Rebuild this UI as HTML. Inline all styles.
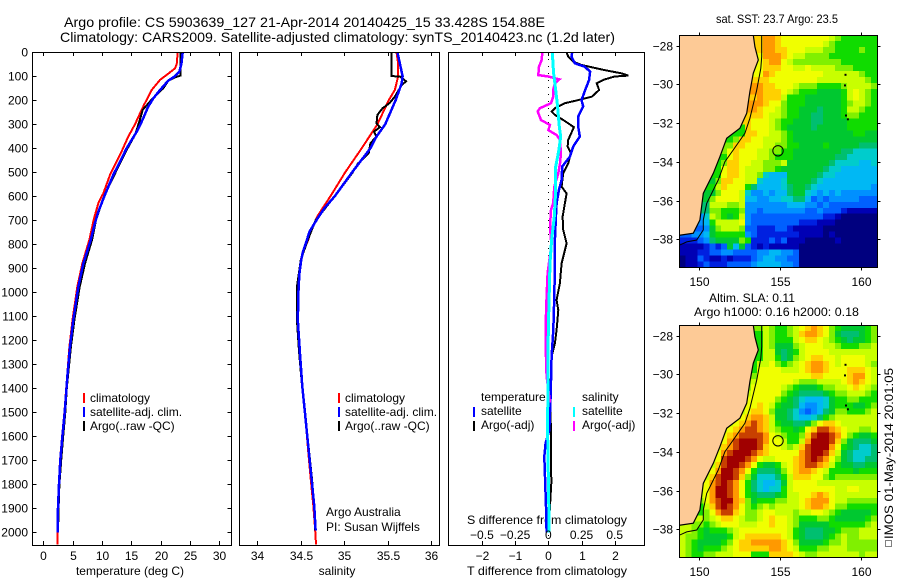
<!DOCTYPE html>
<html>
<head>
<meta charset="utf-8">
<title>Argo profile</title>
<style>
html,body{margin:0;padding:0;background:#fff;width:900px;height:580px;overflow:hidden}
svg{display:block}
text{font-family:"Liberation Sans","DejaVu Sans",sans-serif;font-size:12px;fill:#000}
</style>
</head>
<body>
<svg id="chart" xmlns="http://www.w3.org/2000/svg" width="900" height="580" viewBox="0 0 900 580">
<rect x="0" y="0" width="900" height="580" fill="#fff"/>
<text x="64" y="27" style="font-size:14px" textLength="481" lengthAdjust="spacingAndGlyphs">Argo profile: CS 5903639_127  21-Apr-2014 20140425_15 33.428S 154.88E</text>
<text x="60" y="42" style="font-size:14px" textLength="555" lengthAdjust="spacingAndGlyphs">Climatology: CARS2009. Satellite-adjusted climatology: synTS_20140423.nc (1.2d later)</text>
<text x="130" y="575" text-anchor="middle">temperature (deg C)</text>
<text x="337" y="575" text-anchor="middle">salinity</text>
<text x="547" y="575" text-anchor="middle" textLength="160" lengthAdjust="spacingAndGlyphs">T difference from climatology</text>
<text x="547" y="524" text-anchor="middle" textLength="160" lengthAdjust="spacingAndGlyphs">S difference from climatology</text>
<text x="326" y="516">Argo Australia</text>
<text x="326" y="531">PI: Susan Wijffels</text>
<text x="777" y="23" text-anchor="middle" textLength="122" lengthAdjust="spacingAndGlyphs">sat. SST: 23.7 Argo: 23.5</text>
<text x="752" y="302" text-anchor="middle" textLength="86" lengthAdjust="spacingAndGlyphs">Altim. SLA: 0.11</text>
<text x="776.5" y="316" text-anchor="middle" textLength="165" lengthAdjust="spacingAndGlyphs">Argo h1000: 0.16 h2000: 0.18</text>
<rect x="885.5" y="540.5" width="6" height="6" fill="none" stroke="#000" stroke-width="1" stroke-dasharray="1 1" shape-rendering="crispEdges"/>
<text transform="translate(893,539) rotate(-90)" textLength="171" lengthAdjust="spacingAndGlyphs">IMOS 01-May-2014 20:01:05</text>
</svg>
<script>
// ---------- Axis tick values ----------
const depthTicks = [0,100,200,300,400,500,600,700,800,900,1000,1100,1200,1300,1400,1500,1600,1700,1800,1900,2000];
const tempTicks = [0,5,10,15,20,25,30];
const salTicks = [34,34.5,35,35.5,36];
const salTickLabels = ['34','34.5','35','35.5','36'];
const tDiffTicks = [-2,-1,0,1,2];
const sDiffTicks = [-0.5,-0.25,0,0.25,0.5];
const sDiffTickLabels = ['\u22120.5','\u22120.25','0','0.25','0.5'];
const latTicks = [-28,-30,-32,-34,-36,-38];
const lonTicks = [150,155,160];

// ---------- Temperature profiles ----------
const tempClimDepth = [0,49,67,94,115,157,185,219,261,300,351,428,469,511,588,629,692,782,880,977,1115,1227,1352,1400,1500,1600,1700,1800,1900,2000,2050];
const tempClim = [22.9,22.73,22.45,21.03,19.89,18.47,17.9,17.16,16.36,15.63,14.49,13.07,12.22,11.37,10.23,9.37,8.64,7.84,6.65,5.8,4.98,4.45,4.05,3.9,3.6,3.2,2.85,2.65,2.5,2.42,2.4];
const tempSatDepth = [0,49,81,99,118,157,192,226,289,331,400,456,511,594,664,712,782,880,977,1115,1227,1352,1400,1500,1600,1700,1800,1900,2000];
const tempSat = [23.76,23.53,23.18,22.45,21.3,19.89,18.75,17.9,16.77,15.92,14.2,13.07,11.93,10.5,9.37,8.8,8.08,6.82,5.97,5.11,4.55,4.09,3.95,3.65,3.25,2.9,2.68,2.5,2.45];
const tempArgoDepth = [0,97,104,118,150,171,200,240,289,344,407,462,520,600,700,782,880,977,1115,1227,1352,1400,1500,1600,1700,1800,1900,2000];
const tempArgo = [23.4,23.4,22.45,21.3,20.45,19.6,18.36,16.94,16.36,15.63,14.2,13.07,11.93,10.35,8.98,8.3,7.1,6.2,5.3,4.7,4.2,4.0,3.75,3.4,3.05,2.75,2.6,2.5];

// ---------- Salinity profiles ----------
const salClimDepth = [0,49,100,157,200,300,400,500,600,678,700,740,782,830,865,920,977,1115,1250,1393,1503,1643,1782,1893,1992,2050];
const salClim = [35.6,35.62,35.62,35.58,35.51,35.38,35.2,35.01,34.84,34.70,34.67,34.617,34.585,34.525,34.50,34.48,34.47,34.465,34.49,34.517,34.548,34.58,34.615,34.645,34.665,34.675];
const salSatDepth = [0,49,100,129,200,300,351,400,500,600,650,698,747,782,830,865,920,977,1115,1250,1393,1503,1643,1782,1893,1992];
const salSat = [35.61,35.64,35.67,35.66,35.59,35.47,35.37,35.3,35.09,34.89,34.77,34.683,34.60,34.57,34.525,34.505,34.485,34.475,34.465,34.49,34.517,34.548,34.586,34.625,34.655,34.67];
const salArgoDepth = [0,99,101,121,136,185,212,233,261,296,312,331,351,379,421,462,504,600,700,782,865,977,1115,1250,1393,1643,1782,1893,1992];
const salArgo = [35.54,35.54,35.64,35.71,35.66,35.58,35.52,35.44,35.38,35.37,35.41,35.34,35.37,35.3,35.28,35.16,35.09,34.89,34.67,34.58,34.5,34.455,34.455,34.48,34.515,34.59,34.63,34.655,34.665];

// ---------- Temperature differences ----------
const dtArgoDepth = [0,18,39,53,74,88,97,101,113,129,157,185,199,212,233,247,261,282,296,312,365,393,421,463,504,560,588,629,685,740,796,879,962,1032,1074,1157,1212,1268,1407,1615,1796,1963];
const dtArgo = [0.55,0.6,0.75,1.0,1.7,2.21,2.41,2.0,1.7,1.46,1.53,1.31,0.9,0.5,0.2,0.1,0.2,0.45,0.6,0.77,0.6,0.58,0.68,0.6,0.45,0.4,0.55,0.5,0.43,0.45,0.55,0.4,0.35,0.25,0.3,0.25,0.2,0.1,0.06,0.08,0.09,0.02];
const dtSatDepth = [0,18,46,60,81,115,157,199,226,268,310,351,393,435,476,532,574,629,685,782,879,1018,1157,1268,1435,1574,1629,1685,1768,1893,2000];
const dtSat = [0.72,0.7,0.8,1.1,1.26,1.23,1.11,1.0,1.05,0.9,0.9,0.95,0.75,0.65,0.42,0.4,0.32,0.25,0.23,0.2,0.2,0.18,0.15,0.1,0.07,0.03,-0.08,-0.12,-0.1,-0.07,-0.05];

// ---------- Salinity differences ----------
const dsSatDepth = [0,88,129,226,310,351,407,476,574,685,782,879,1157,1574,2000];
const dsSat = [0.03,0.04,0.05,0.07,0.083,0.093,0.08,0.056,0.056,0.045,0.025,0.013,0,-0.005,0.007];
const dsArgoDepth = [0,32,60,95,101,113,129,157,185,212,233,247,282,303,324,345,365,421,463,504,560,629,657,726,782,796,921,1018,1143,1254,1351,1460];
const dsArgo = [-0.045,-0.05,-0.07,-0.075,0,0.083,0.05,0.037,0.037,0.02,-0.063,-0.08,-0.055,0.0125,0,0.063,0.088,0.095,0.088,0.075,0.045,0.037,0.02,0.0125,0.02,0.025,-0.005,-0.013,-0.02,-0.018,-0.013,0.0125];

// ---------- Map values: colour level per ocean cell, rows north to south, right-aligned to the eastern edge ----------
const sstRows = [
[13,14,14,13,12,12,12,12,12,12,12,12,11,10,9,9,9,9,9,9],
[13,14,14,13,12,12,12,12,12,12,12,11,10,9,9,9,9,9,9,9],
[13,14,14,13,13,12,12,12,11,11,11,10,10,9,9,9,9,10,9,9],
[12,14,14,14,13,12,11,11,10,10,10,10,9,9,9,9,9,9,9,9],
[12,13,14,14,12,11,10,10,10,10,10,10,10,10,9,9,9,9,9,9],
[12,13,13,13,12,12,11,11,12,11,11,11,11,10,10,10,9,9,9,9],
[12,14,13,12,12,12,12,12,12,12,12,11,11,11,11,11,11,10,9,9],
[13,13,12,12,12,12,12,12,12,12,11,11,11,11,11,11,11,11,10,9],
[14,13,13,12,12,12,11,10,10,10,9,9,9,9,10,11,11,11,11,10],
[14,13,13,13,12,11,10,9,9,9,8,8,8,8,9,11,12,11,10,9],
[13,14,13,13,13,11,9,9,9,8,8,8,8,8,8,9,11,12,11,10,9],
[14,14,13,12,12,10,9,9,9,8,8,8,8,8,8,9,10,11,11,10,9],
[14,13,12,12,11,10,9,9,8,8,8,7,8,8,8,9,11,11,10,9,9],
[13,13,13,12,11,11,10,9,9,8,8,7,7,8,8,8,9,10,10,9,9,9],
[13,12,12,12,11,10,9,9,8,8,8,7,7,8,8,8,8,9,9,9,9,9],
[9,13,12,12,12,11,10,9,8,8,8,8,7,8,8,8,8,8,9,9,9,9,9],
[9,13,13,12,12,11,11,10,9,8,8,8,8,8,8,8,8,8,8,9,9,8,8],
[9,10,13,13,12,12,11,11,11,10,9,8,8,8,8,8,8,8,8,8,8,8,8,8,8],
[10,13,13,12,12,12,11,11,10,10,9,9,8,8,8,8,9,8,8,8,8,8,7,7,7],
[10,12,13,12,12,12,11,11,10,10,9,9,8,8,8,8,8,8,8,8,7,7,6,6,6,6],
[9,12,13,12,12,12,11,11,10,9,9,9,8,8,8,8,8,8,8,7,7,6,6,6,6,6],
[9,10,13,13,12,12,11,11,10,10,10,11,8,8,8,8,8,8,8,7,6,6,6,6,5,5,6],
[9,12,13,13,12,11,11,11,10,10,9,8,8,8,8,8,8,8,7,6,6,5,5,5,5,5,5],
[9,12,13,13,12,11,11,10,6,5,5,5,8,8,8,8,8,7,6,6,5,5,5,5,5,5,5],
[8,10,13,13,12,12,11,11,6,5,5,5,6,8,8,8,8,7,6,5,5,5,5,5,5,5,5,5],
[9,11,13,12,12,12,9,7,5,5,5,5,6,7,8,8,7,6,5,5,5,5,5,5,5,5,5,4],
[8,10,12,12,12,11,6,4,4,5,4,5,5,7,8,8,6,5,4,5,4,5,4,4,4,4,4,4],
[8,10,12,12,12,12,11,5,5,4,4,5,5,6,6,7,7,5,3,4,3,4,4,4,4,4,3,3,3],
[7,11,11,11,10,10,11,4,4,4,4,4,4,4,5,5,5,4,4,3,4,3,3,3,3,3,3,3,3],
[7,10,10,9,9,9,10,4,4,3,4,4,4,4,4,4,4,3,3,4,3,3,3,2,1,1,1,1,1],
[4,6,11,10,9,8,9,11,4,3,3,3,3,3,3,3,3,3,3,3,3,2,2,1,0,0,0,0,0,0],
[4,5,9,11,11,11,11,12,4,3,3,3,3,3,3,3,3,2,2,2,1,1,1,0,0,0,0,0,0,0],
[3,3,3,3,4,8,10,11,11,11,10,3,3,2,2,2,3,3,2,1,1,1,1,1,0,0,0,0,0,0,0,0,0],
[3,3,4,4,5,8,9,9,9,9,9,4,3,2,2,2,2,2,2,2,1,1,1,1,0,1,0,0,0,0,0,0,0],
[2,2,2,3,4,7,8,8,8,8,10,9,2,2,2,3,2,3,1,1,1,0,0,0,0,0,1,0,0,0,0,0,0],
[1,1,1,1,2,3,2,3,8,5,8,3,2,1,2,1,1,1,1,1,0,0,0,0,0,0,0,0,0,0,0,0,0],
[1,1,1,2,2,3,3,4,4,3,3,3,3,4,4,5,5,4,4,3,0,0,0,0,0,0,0,0,0,0,0,0,0],
[0,1,1,3,2,1,1,2,1,2,2,2,3,4,5,5,4,4,3,3,0,0,0,0,0,0,0,0,0,0,0,0,0],
[0,1,1,2,3,2,2,2,3,3,3,3,4,5,5,5,5,4,4,3,0,0,0,0,0,0,0,0,0,0,0,0,0]
];
const slaRows = [
[10,11,10,9,9,10,11,12,13,14,13,12,10,9,8,8,8,8,9,10],
[9,11,10,9,9,10,11,13,14,14,13,12,10,8,7,7,7,8,9,10],
[9,11,10,9,9,9,11,12,13,13,12,11,10,9,8,7,8,8,9,10],
[9,11,10,8,8,8,10,11,12,12,12,11,11,10,9,9,9,10,10,11],
[9,11,11,8,7,8,9,11,12,12,12,12,11,11,11,11,11,11,11,11],
[9,11,11,9,7,8,10,11,12,13,13,12,12,11,12,12,12,12,11,11],
[9,11,11,12,10,9,10,11,12,13,14,14,13,12,11,12,12,12,12,11,10],
[9,12,12,12,12,11,11,11,12,13,14,14,13,12,12,12,13,13,13,12,11],
[10,12,12,12,12,12,12,12,12,12,13,13,12,12,12,12,13,14,14,12,11],
[10,11,12,12,12,12,12,12,11,10,10,10,11,11,11,11,12,13,14,13,12,11],
[10,12,12,12,12,12,11,10,9,8,8,8,9,10,10,11,11,12,13,12,11,10],
[9,11,12,12,12,12,12,10,9,8,7,7,7,7,8,9,10,10,11,11,11,10,9],
[10,12,12,12,12,12,10,9,8,7,6,5,5,5,6,8,9,9,10,10,9,9,9],
[11,12,12,13,12,11,9,8,8,7,5,4,4,5,6,8,9,9,9,8,8,9,10],
[10,11,12,13,13,12,10,8,8,7,6,4,3,4,5,7,8,10,10,9,9,9,10,11],
[11,12,13,14,14,13,11,8,8,7,6,5,5,6,7,9,10,11,11,11,11,11,11,11],
[11,12,13,14,15,14,13,11,9,8,8,7,7,8,10,12,13,13,12,11,11,11,11,11,11],
[11,12,13,14,15,15,14,13,11,10,9,9,8,9,12,13,15,15,14,13,12,11,11,10,10,11],
[12,13,14,15,15,15,15,14,12,11,10,9,9,10,13,15,16,16,15,14,12,10,9,8,8,9],
[11,12,14,15,16,16,16,15,14,12,12,11,9,9,11,14,16,16,16,15,13,10,8,7,7,7,8],
[11,13,14,15,16,16,16,15,13,12,12,11,10,11,13,15,16,16,16,14,12,9,8,7,6,6,7],
[10,12,14,15,16,16,16,15,14,13,12,12,12,12,12,14,15,16,16,15,13,11,8,7,6,6,6,7],
[11,12,15,16,16,16,15,14,12,11,11,12,12,12,13,14,15,16,15,14,12,10,8,7,6,6,7,7],
[11,13,15,16,16,15,14,12,9,8,8,9,11,12,13,14,15,15,14,13,11,9,8,8,7,7,8,8],
[11,12,14,16,16,15,14,12,9,7,7,7,8,10,12,13,14,14,13,12,11,9,9,9,9,8,9,9,9],
[11,13,15,16,16,15,13,10,8,6,6,6,7,9,11,13,13,13,12,12,10,9,10,10,10,10,10,10,10],
[12,14,15,16,15,14,12,9,7,6,5,5,6,8,11,12,12,12,12,11,11,11,11,11,11,11,11,11,11],
[11,12,14,16,16,15,14,12,9,7,6,5,6,6,9,11,12,12,12,12,12,12,12,11,11,12,12,11,11,11],
[11,12,14,16,16,15,14,12,9,8,7,7,7,8,9,11,11,12,12,13,14,13,12,11,11,11,11,11,11,11],
[10,12,14,15,16,16,14,13,10,8,9,9,9,10,10,11,11,12,13,14,14,14,12,11,11,10,10,10,10,10],
[9,11,13,15,16,15,14,12,10,9,10,11,10,11,11,11,11,12,13,14,14,13,12,10,10,9,9,9,9,9],
[9,10,12,14,15,15,13,12,10,10,11,12,12,11,11,11,10,11,11,12,12,11,10,9,8,8,8,8,8,9],
[11,11,11,11,10,11,12,13,13,12,11,10,10,11,12,13,12,12,11,10,9,9,9,10,10,9,8,8,8,8,8,9,10],
[11,11,10,10,9,10,11,12,12,12,11,11,11,12,12,13,12,12,11,10,8,8,8,8,8,9,9,9,9,9,9,10,11],
[11,11,10,9,8,9,9,9,10,11,12,12,12,12,12,12,12,12,11,9,8,7,7,7,8,8,9,10,10,10,11,11,11],
[11,10,10,9,8,8,8,8,9,11,12,13,13,13,13,13,13,12,11,9,8,7,7,7,8,9,10,11,10,10,11,11,11],
[11,10,9,8,8,8,8,9,10,12,13,13,14,14,14,14,14,13,12,10,8,8,8,8,9,10,10,11,10,10,10,10,10],
[11,10,9,8,9,9,9,10,11,12,13,13,13,13,13,14,14,13,12,11,9,9,9,10,10,11,11,11,10,10,10,10,10],
[11,10,9,9,10,10,11,11,11,12,12,12,9,9,9,13,13,13,13,12,11,10,10,11,11,11,11,11,11,11,10,11,11]
];

// ---------- Geography (lon/lat) ----------
const coastLon = [153.35,153.45,153.66,153.35,153.14,152.94,152.52,151.70,151.28,150.87,150.25,150.04,149.63,148.76];
const coastLat = [-27.46,-28.05,-28.74,-29.42,-30.37,-31.49,-32.26,-32.78,-33.73,-34.59,-35.62,-37.0,-37.68,-37.79];
const isobathLon = [153.87,153.87,153.81,153.56,153.14,152.83,152.11,151.59,151.18,150.46,150.25,150.25,149.84,149.22,148.76];
const isobathLat = [-27.46,-28.57,-29.17,-30.29,-31.75,-32.52,-33.38,-33.99,-34.93,-36.14,-37.0,-37.51,-38.03,-38.13,-38.30];
const islandLon = [159.0,158.97,159.03,159.15];
const islandLat = [-29.45,-30.0,-31.55,-31.75];
const floatLon = [154.88];
const floatLat = [-33.428];

// ---------- Axis functions ----------
const PLOT_TOP = 52, PLOT_BOTTOM = 545;
const yDepth = d => 52.3 + d * 0.24;
const xTemp = t => 43.3 + t * 5.867;
const xSal = s => 257.3 + (s - 34) * 87;
const xDT = v => 548.3 + v * 33.2;
const xDS = v => 548.3 + v * 132.8;
const xLon = lon => 699.3 + (lon - 150) * 16.13;
const yLat = (lat, top) => top + 10.7 - (lat + 28) * 19.37;

// ---------- Palette ----------
const palette = ['#00007f','#0000b4','#0020e0','#0060ff','#0090ff','#00b8f4','#00cccc','#00bf70','#00c830','#10dc00','#80f000','#c8ff00','#f0ff00','#ffd000','#ff9900','#c84000','#a00000'];

const SVGNS = 'http://www.w3.org/2000/svg';
const svg = document.getElementById('chart');

function el(tag, parent) {
  const e = document.createElementNS(SVGNS, tag);
  (parent || svg).appendChild(e);
  return e;
}
function line(x1, y1, x2, y2) {
  const l = el('line');
  l.setAttribute('x1', x1);
  l.setAttribute('y1', y1);
  l.setAttribute('x2', x2);
  l.setAttribute('y2', y2);
  l.setAttribute('stroke', '#000');
  l.setAttribute('stroke-width', 1);
  l.setAttribute('shape-rendering', 'crispEdges');
  return l;
}
function label(x, y, str, anchor, size) {
  const t = el('text');
  t.setAttribute('x', x);
  t.setAttribute('y', y);
  t.setAttribute('text-anchor', anchor || 'middle');
  if (size) t.style.fontSize = size + 'px';
  t.textContent = str;
  return t;
}
function clipRect(id, x, y, w, h) {
  const c = el('clipPath');
  c.setAttribute('id', id);
  
  
  const r = el('rect', c);
  r.setAttribute('x', x);
  r.setAttribute('y', y);
  r.setAttribute('width', w);
  r.setAttribute('height', h);
}
function frame(x, y, w, h) {
  const r = el('rect');
  r.setAttribute('x', x);
  r.setAttribute('y', y);
  r.setAttribute('width', w);
  r.setAttribute('height', h);
  r.setAttribute('fill', 'none');
  r.setAttribute('stroke', '#000');
  r.setAttribute('stroke-width', 1);
  r.setAttribute('shape-rendering', 'crispEdges');
  return r;
}
function series(xs, ys, color, clipId, xFn, width) {
  const p = el('polyline');
  p.setAttribute('points', xs.map((v, i) => xFn(v).toFixed(1) + ',' + yDepth(ys[i]).toFixed(1)).join(' '));
  p.setAttribute('fill', 'none');
  p.setAttribute('stroke', color);
  p.setAttribute('stroke-width', width || 2);
  p.setAttribute('clip-path', 'url(#' + clipId + ')');
  p.setAttribute('shape-rendering', 'crispEdges');
  return p;
}
function legendMark(x, y, color) {
  const r = el('rect');
  r.setAttribute('x', x);
  r.setAttribute('y', y - 5);
  r.setAttribute('width', 2);
  r.setAttribute('height', 10);
  r.setAttribute('fill', color);
  return r;
}

// ---------- Profile panel frames ----------
const p1 = {x: 32.5, w: 199};
const p2 = {x: 239.5, w: 200};
const p3 = {x: 448.5, w: 196};
clipRect('clip-temp', p1.x, PLOT_TOP, p1.w, 493);
clipRect('clip-sal', p2.x, PLOT_TOP, p2.w, 493);
clipRect('clip-diff', p3.x, PLOT_TOP, p3.w, 493);

// dotted zero line
const zeroLine = line(xDT(0), PLOT_TOP, xDT(0), PLOT_BOTTOM);
zeroLine.setAttribute('stroke-dasharray', '1 6');



// ---------- Series ----------
let s;
s = series(tempClim, tempClimDepth, '#ff0000', 'clip-temp', xTemp);


s = series(tempArgo, tempArgoDepth, '#000000', 'clip-temp', xTemp);


s = series(tempSat, tempSatDepth, '#0000ff', 'clip-temp', xTemp, 2.5);


s = series(salClim, salClimDepth, '#ff0000', 'clip-sal', xSal);


s = series(salArgo, salArgoDepth, '#000000', 'clip-sal', xSal);


s = series(salSat, salSatDepth, '#0000ff', 'clip-sal', xSal, 2.5);


s = series(dtArgo, dtArgoDepth, '#000000', 'clip-diff', xDT);


s = series(dtSat, dtSatDepth, '#0000ff', 'clip-diff', xDT, 2.5);


s = series(dsArgo, dsArgoDepth, '#ff00ff', 'clip-diff', xDS, 2.5);


s = series(dsSat, dsSatDepth, '#00ffff', 'clip-diff', xDS, 3);



let f;
f = frame(p1.x, PLOT_TOP + .5, p1.w, 493);


f = frame(p2.x, PLOT_TOP + .5, p2.w, 493);


f = frame(p3.x, PLOT_TOP + .5, p3.w, 493);



// ---------- Depth ticks ----------
depthTicks.forEach(d => {
  const y = Math.round(yDepth(d)) + .5;
  const a = line(p1.x - 0, y, p1.x + 4, y);
  
  
  const b = line(p1.x + p1.w - 4, y, p1.x + p1.w, y);
  
  
  const t = label(28, y + 4, String(d), 'end');
  
  
});

// ---------- X ticks ----------
tempTicks.forEach(v => {
  const x = Math.round(xTemp(v)) + .5;
  const a = line(x, PLOT_BOTTOM - 4, x, PLOT_BOTTOM);
  
  
  const b = line(x, PLOT_TOP, x, PLOT_TOP + 4);
  
  
  const t = label(x, 560, String(v));
  
  
});
salTicks.forEach((v, i) => {
  const x = Math.round(xSal(v)) + .5;
  const a = line(x, PLOT_BOTTOM - 4, x, PLOT_BOTTOM);
  
  
  const b = line(x, PLOT_TOP, x, PLOT_TOP + 4);
  
  
  const t = label(x, 560, salTickLabels[i]);
  
  
});
tDiffTicks.forEach(v => {
  const x = Math.round(xDT(v)) + .5;
  const a = line(x, PLOT_BOTTOM - 4, x, PLOT_BOTTOM);
  
  
  const b = line(x, PLOT_TOP, x, PLOT_TOP + 4);
  
  
  const t = label(x, 560, String(v).replace('-', '\u2212'));
  
  
});
sDiffTicks.forEach((v, i) => {
  const t = label(xDS(v), 539, sDiffTickLabels[i]);
  
  
});

// ---------- Legends ----------
const legendRowsY = [398, 412, 426];
const legend1Names = ['climatology', 'satellite-adj. clim.', 'Argo(..raw -QC)'];
const legend1Colors = ['#ff0000', '#0000ff', '#000000'];
legend1Names.forEach((n, i) => {
  let m = legendMark(83, legendRowsY[i], legend1Colors[i]);
  
  
  let t = label(90, legendRowsY[i] + 4, n, 'start');
  
  
  m = legendMark(338, legendRowsY[i], legend1Colors[i]);
  
  
  t = label(345, legendRowsY[i] + 4, n, 'start');
  
  
});
const legend3Names = ['temperature', 'satellite', 'Argo(-adj)'];
const legend3bNames = ['salinity', 'satellite', 'Argo(-adj)'];
const legend3Colors = [null, '#0000ff', '#000000'];
const legend3bColors = [null, '#00ffff', '#ff00ff'];
legend3Names.forEach((n, i) => {
  const t = label(481, legendRowsY[i] + 3, n, 'start');
  
  
  if (legend3Colors[i]) {
    const m = legendMark(473, legendRowsY[i], legend3Colors[i]);
    
    
  }
});
legend3bNames.forEach((n, i) => {
  const t = label(582, legendRowsY[i] + 3, n, 'start');
  
  
  if (legend3bColors[i]) {
    const m = legendMark(573, legendRowsY[i], legend3bColors[i]);
    
    
  }
});

// ---------- Maps ----------
const MAP_LEFT = 679.5, MAP_RIGHT = 877.5, MAP_H = 232;
const LON_MIN = 148.76, LON_STEP = 12.26 / 33, LAT_MAX = -27.46, LAT_STEP = 11.98 / 39, MAP_COLS = 33;

function drawMap(prefix, rows, top) {
  const clipId = 'clip-' + prefix;
  clipRect(clipId, MAP_LEFT, top, MAP_RIGHT - MAP_LEFT, MAP_H);
  const g = el('g');
  
  
  g.setAttribute('clip-path', 'url(#' + clipId + ')');
  rows.forEach((row, j) => {
    const start = MAP_COLS - row.length;
    row.forEach((v, k) => {
      const i = start + k;
      // the westernmost ocean cell of each row runs under the land polygon so no gap shows at the coast
      const x0 = k === 0 ? MAP_LEFT : xLon(LON_MIN + i * LON_STEP);
      const x1 = xLon(LON_MIN + (i + 1) * LON_STEP);
      const y0 = yLat(LAT_MAX - j * LAT_STEP, top);
      const y1 = yLat(LAT_MAX - (j + 1) * LAT_STEP, top);
      const c = el('rect', g);
      c.setAttribute('x', x0.toFixed(1));
      c.setAttribute('y', y0.toFixed(1));
      c.setAttribute('width', (x1 - x0 + .6).toFixed(1));
      c.setAttribute('height', (y1 - y0 + .6).toFixed(1));
      c.setAttribute('fill', palette[Math.max(0, Math.min(palette.length - 1, Math.round(v)))]);
      c.setAttribute('shape-rendering', 'crispEdges');
      
      
    });
  });
  const landPts = coastLon.map((lo, i) => xLon(lo).toFixed(1) + ',' + yLat(coastLat[i], top).toFixed(1));
  landPts.push(xLon(148.76).toFixed(1) + ',' + yLat(-27.46, top).toFixed(1));
  const land = el('polygon', g);
  land.setAttribute('points', landPts.join(' '));
  land.setAttribute('fill', '#fdca96');
  land.setAttribute('stroke', '#000');
  land.setAttribute('stroke-width', 1.2);
  
  
  const iso = el('polyline', g);
  iso.setAttribute('points', isobathLon.map((lo, i) => xLon(lo).toFixed(1) + ',' + yLat(isobathLat[i], top).toFixed(1)).join(' '));
  iso.setAttribute('fill', 'none');
  iso.setAttribute('stroke', '#000');
  iso.setAttribute('stroke-width', 1);
  
  
  islandLon.forEach((lo, i) => {
    const d = el('rect', g);
    d.setAttribute('x', xLon(lo).toFixed(1));
    d.setAttribute('y', yLat(islandLat[i], top).toFixed(1));
    d.setAttribute('width', 2);
    d.setAttribute('height', 2);
    d.setAttribute('fill', '#000');
    
    
  });
  const marker = el('circle', g);
  marker.setAttribute('cx', xLon(floatLon[0]).toFixed(1));
  marker.setAttribute('cy', yLat(floatLat[0], top).toFixed(1));
  marker.setAttribute('r', 5.2);
  marker.setAttribute('fill', 'none');
  marker.setAttribute('stroke', '#000');
  marker.setAttribute('stroke-width', 1);
  
  

  const fr = frame(MAP_LEFT, top + .5, MAP_RIGHT - MAP_LEFT, MAP_H);
  
  

  latTicks.forEach(v => {
    const y = Math.round(yLat(v, top)) + .5;
    const a = line(MAP_LEFT - 3, y, MAP_LEFT, y);
    
    
    const b = line(MAP_RIGHT, y, MAP_RIGHT + 3, y);
    
    
    const t = label(673, y + 4, String(v).replace('-', '\u2212'), 'end');
    
    
  });
  lonTicks.forEach(v => {
    const x = Math.round(xLon(v)) + .5;
    const a = line(x, top + .5 - 3, x, top + .5);
    
    
    const b = line(x, top + MAP_H + .5, x, top + MAP_H + 3.5);
    
    
    const t = label(x, top + MAP_H + 19, String(v));
    
    
  });
}
drawMap('sst', sstRows, 35);
drawMap('sla', slaRows, 325);
</script>
</body>
</html>
